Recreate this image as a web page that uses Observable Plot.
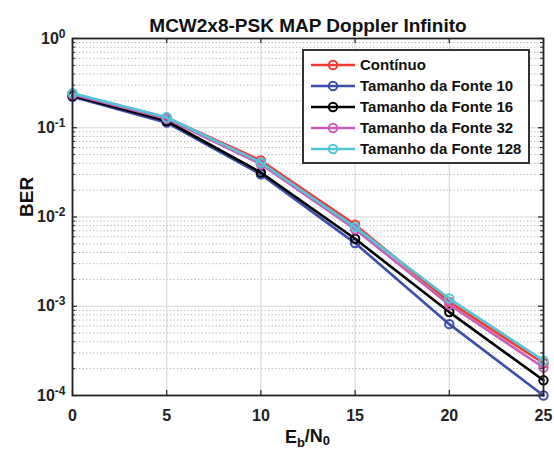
<!DOCTYPE html>
<html>
<head>
<meta charset="utf-8">
<script src="https://cdn.jsdelivr.net/npm/d3@7"></script>
<script src="https://cdn.jsdelivr.net/npm/@observablehq/plot@0.6"></script>
<style>
  html, body { margin: 0; padding: 0; background: #fff; }
  svg { font-family: "Liberation Sans", Arial, sans-serif; }
</style>
</head>
<body>
<div id="chart"></div>
<script>
// ---- data ----
const ebn0 = [0, 5, 10, 15, 20, 25];
const seriesNames = ["Contínuo", "Tamanho da Fonte 10", "Tamanho da Fonte 16", "Tamanho da Fonte 32", "Tamanho da Fonte 128"];
const seriesColors = ["#f03a32", "#3b4ea8", "#000000", "#c75cb9", "#52c6d6"];
const continuo = [0.240, 0.130, 0.0430, 0.0082, 0.00112, 0.000230];
const fonte10  = [0.222, 0.114, 0.0300, 0.0051, 0.00063, 0.000100];
const fonte16  = [0.228, 0.119, 0.0315, 0.0057, 0.00086, 0.000148];
const fonte32  = [0.236, 0.126, 0.0390, 0.0073, 0.00104, 0.000206];
const fonte128 = [0.244, 0.131, 0.0408, 0.0077, 0.00122, 0.000246];
const seriesValues = [continuo, fonte10, fonte16, fonte32, fonte128];
const xTicks = [0, 5, 10, 15, 20, 25];
const yMajor = [1e-4, 1e-3, 1e-2, 1e-1, 1];
const titleText = "MCW2x8-PSK MAP Doppler Infinito";
const yLabel = "BER";

// ---- build ----
const W = 554, H = 454;
const mL = 72, mR = 11, mT = 38, mB = 59;
const innerH = H - mT - mB, innerW = W - mL - mR;
const yMinor = [];
for (let e = -4; e < 0; e++) for (let k = 2; k <= 9; k++) yMinor.push(k * Math.pow(10, e));

const marks = [
  Plot.ruleY(yMinor, {y: d => d, stroke: "#b0b0b0", strokeDasharray: "1.3,2.2", strokeWidth: 1}),
  Plot.ruleY(yMajor, {y: d => d, stroke: "#d8d8d8", strokeWidth: 1.2}),
  Plot.ruleX(xTicks, {x: d => d, stroke: "#d8d8d8", strokeWidth: 1.2}),
  // inward ticks
  Plot.tickX(xTicks, {x: d => d, insetTop: innerH - 5, stroke: "#222", strokeWidth: 1.2}),
  Plot.tickX(xTicks, {x: d => d, insetBottom: innerH - 5, stroke: "#222", strokeWidth: 1.2}),
  Plot.tickY(yMajor, {y: d => d, insetRight: innerW - 5, stroke: "#222", strokeWidth: 1.2}),
  Plot.tickY(yMajor, {y: d => d, insetLeft: innerW - 5, stroke: "#222", strokeWidth: 1.2}),
  Plot.tickY(yMinor, {y: d => d, insetRight: innerW - 3, stroke: "#222", strokeWidth: 1}),
  Plot.tickY(yMinor, {y: d => d, insetLeft: innerW - 3, stroke: "#222", strokeWidth: 1}),
  Plot.axisX(xTicks, {tickSize: 0, tickPadding: 14, fontSize: 16, fontWeight: "bold", fill: "#222", label: null}),
  Plot.axisY(yMajor, {tickSize: 0, tickPadding: 7, fontSize: 16, fontWeight: "bold", fill: "#222", label: null,
    tickFormat: d => "10|" + Math.round(Math.log10(d))}),
  Plot.text([titleText], {frameAnchor: "top", text: d => d, dy: -20, fontSize: 19, fontWeight: "bold", fill: "#111"}),
  Plot.text([yLabel], {frameAnchor: "left", text: d => d, dx: -46, rotate: -90, fontSize: 19, fontWeight: "bold", fill: "#111"}),
];
seriesNames.forEach((name, i) => {
  const rows = ebn0.map((x, j) => ({x, y: seriesValues[i][j], series: name}));
  marks.push(Plot.line(rows, {x: "x", y: "y", stroke: seriesColors[i], strokeWidth: 2.6}));
  marks.push(Plot.dot(rows, {x: "x", y: "y", r: 4.2, stroke: seriesColors[i], strokeWidth: 2, fill: "none"}));
});
marks.push(Plot.frame({stroke: "#222", strokeWidth: 1.8}));

const chart = Plot.plot({
  width: W, height: H,
  marginLeft: mL, marginRight: mR, marginTop: mT, marginBottom: mB,
  style: {fontFamily: "Liberation Sans, Arial, sans-serif", background: "#fff"},
  x: {domain: [0, 25]},
  y: {type: "log", domain: [1e-4, 1]},
  marks
});
document.getElementById("chart").appendChild(chart);

const svg = d3.select(chart);
// superscripted y tick labels
svg.selectAll('g[aria-label="y-axis tick label"] text').each(function() {
  const t = d3.select(this);
  const parts = t.text().split("|");
  if (parts.length !== 2) return;
  t.text(null);
  t.append("tspan").text("10");
  t.append("tspan").attr("dy", "-0.5em").attr("font-size", "12").text(parts[1]);
});

// x label E_b/N_0
const xl = svg.append("text")
  .attr("x", mL + innerW / 2).attr("y", H - 11)
  .attr("text-anchor", "middle").attr("font-size", 18).attr("font-weight", "bold").attr("fill", "#111");
xl.append("tspan").text("E");
xl.append("tspan").attr("dy", "0.3em").attr("font-size", 13).text("b");
xl.append("tspan").attr("dy", "-0.3em").text("/N");
xl.append("tspan").attr("dy", "0.3em").attr("font-size", 13).text("0");

// legend
const lg = svg.append("g");
const lx = 303, ly = 50, lw = 226, lh = 113;
lg.append("rect").attr("x", lx).attr("y", ly).attr("width", lw).attr("height", lh)
  .attr("fill", "#fff").attr("stroke", "#333").attr("stroke-width", 2);
seriesNames.forEach((name, i) => {
  const yy = ly + 15 + i * 21;
  lg.append("line").attr("x1", lx + 8).attr("x2", lx + 52).attr("y1", yy).attr("y2", yy)
    .attr("stroke", seriesColors[i]).attr("stroke-width", 2.6);
  lg.append("circle").attr("cx", lx + 30).attr("cy", yy).attr("r", 4.2)
    .attr("fill", "none").attr("stroke", seriesColors[i]).attr("stroke-width", 2);
  lg.append("text").attr("x", lx + 57).attr("y", yy).attr("dy", "0.35em")
    .attr("text-anchor", "start")
    .attr("font-size", 15).attr("font-weight", "bold").attr("fill", "#111").text(name);
});
</script>
</body>
</html>
